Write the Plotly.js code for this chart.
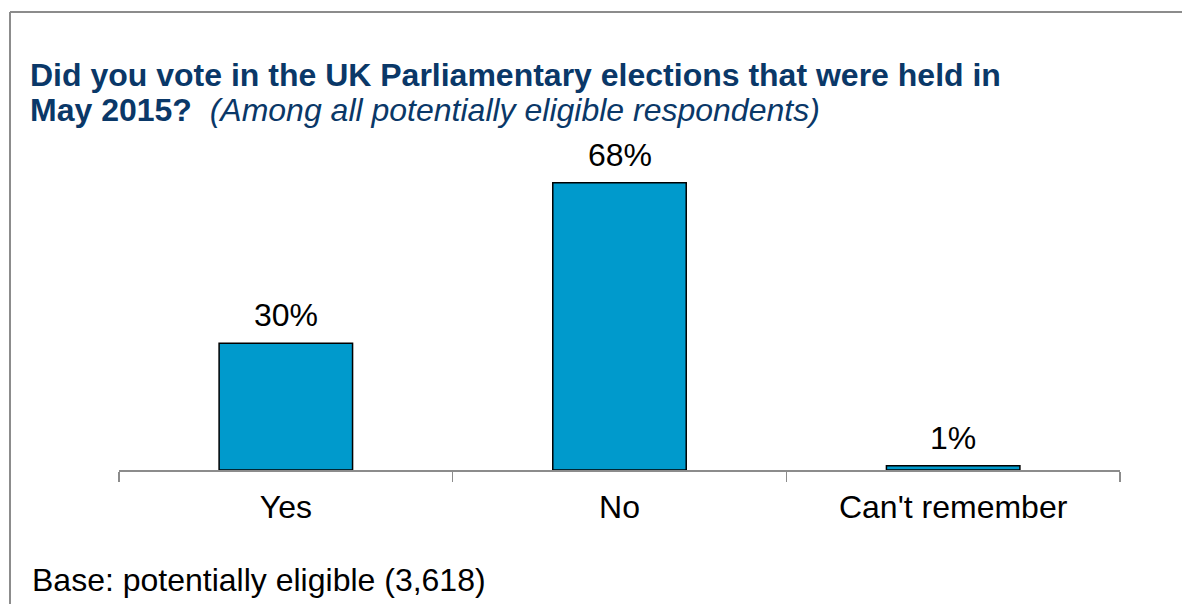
<!DOCTYPE html>
<html>
<head>
<meta charset="utf-8">
<script src="https://cdn.plot.ly/plotly-3.0.1.min.js"></script>
<style>html,body{margin:0;padding:0;background:#fff;}#chart{width:1182px;height:604px;}</style>
</head>
<body>
<div id="chart"></div>
<script>
var categories = ["Yes", "No", "Can't remember"];
var values = [30, 68, 1];
var valueLabels = ["30%", "68%", "1%"];
var titleLine1 = "Did you vote in the UK Parliamentary elections that were held in";
var titleLine2Bold = "May 2015?";
var titleLine2Italic = "(Among all potentially eligible respondents)";
var baseNote = "Base: potentially eligible (3,618)";

var FONT = "Arial, 'Liberation Sans', sans-serif";
var NAVY = "#0a3868";
var FS = 32;

var L = 119, R = 62, T = 132, B = 134, W = 1182, H = 604;
var pw = W - L - R, ph = H - T - B;
function px(x) { return (x - L) / pw; }
function py(y) { return (H - B - y) / ph; }

var trace = {
  type: "bar",
  x: categories,
  y: values,
  marker: { color: "#009acc", line: { color: "#000000", width: 1.5 } },
  hoverinfo: "none"
};

var annotations = categories.map(function (c, i) {
  return {
    x: c, y: values[i], xref: "x", yref: "y",
    text: valueLabels[i], showarrow: false,
    yanchor: "bottom", yshift: 8,
    font: { family: FONT, size: FS, color: "#000000" }
  };
});
annotations.push({
  xref: "paper", yref: "paper", x: px(28), y: py(75), xanchor: "left", yanchor: "middle",
  text: "<b>" + titleLine1 + "</b>", showarrow: false,
  font: { family: FONT, size: FS, color: NAVY }
});
annotations.push({
  xref: "paper", yref: "paper", x: px(28), y: py(110), xanchor: "left", yanchor: "middle",
  text: "<b>" + titleLine2Bold + "</b>  <i>" + titleLine2Italic + "</i>", showarrow: false,
  font: { family: FONT, size: FS, color: NAVY }
});
annotations.push({
  xref: "paper", yref: "paper", x: px(30), y: py(580), xanchor: "left", yanchor: "middle",
  text: baseNote, showarrow: false,
  font: { family: FONT, size: FS, color: "#000000" }
});

var layout = {
  width: W, height: H,
  margin: { l: L, r: R, t: T, b: B, pad: 0 },
  paper_bgcolor: "#ffffff", plot_bgcolor: "#ffffff",
  showlegend: false,
  bargap: 0.6,
  font: { family: FONT, size: FS, color: "#000000" },
  xaxis: {
    type: "category",
    showline: true, linecolor: "#8c8c8c", linewidth: 1.5,
    ticks: "outside", tickson: "boundaries", ticklen: 10, tickcolor: "#8c8c8c", tickwidth: 1.5,
    tickfont: { family: FONT, size: FS, color: "#000000" },
    ticklabelstandoff: 8,
    showgrid: false, zeroline: false, fixedrange: true
  },
  yaxis: {
    range: [0, 80], visible: false, showgrid: false, zeroline: false, fixedrange: true
  },
  annotations: annotations,
  shapes: [
    { type: "line", xref: "paper", yref: "paper", x0: px(10), x1: px(1200), y0: py(12), y1: py(12),
      line: { color: "#8c8c8c", width: 2 } },
    { type: "line", xref: "paper", yref: "paper", x0: px(10), x1: px(10), y0: py(12), y1: py(620),
      line: { color: "#8c8c8c", width: 2 } }
  ]
};

Plotly.newPlot("chart", [trace], layout, { displayModeBar: false, staticPlot: true });
</script>
</body>
</html>
